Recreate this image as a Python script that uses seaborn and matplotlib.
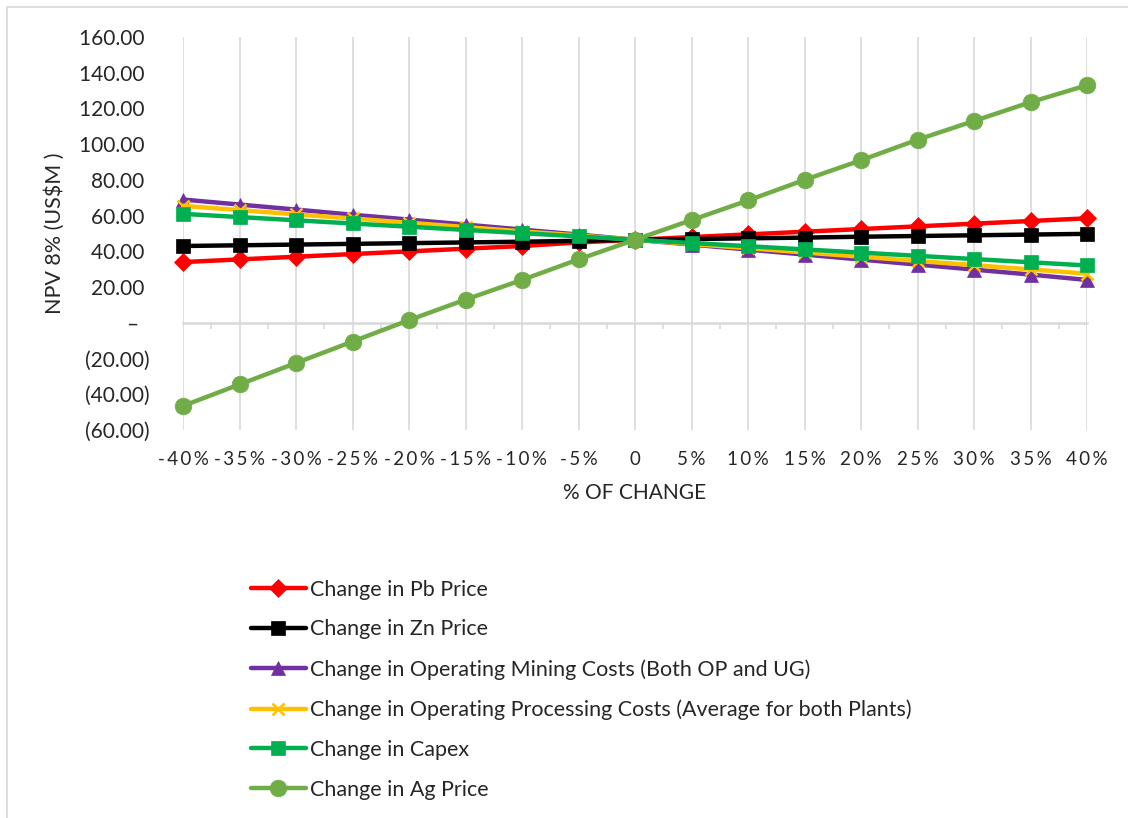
import matplotlib
matplotlib.use("Agg")
import matplotlib.pyplot as plt
from matplotlib.patches import Rectangle
import seaborn as sns
import pandas as pd

# Sensitivity of NPV (8%) to changes in key inputs
pct_change = [-40, -35, -30, -25, -20, -15, -10, -5, 0, 5, 10, 15, 20, 25, 30, 35, 40]

pb_price = [34.0, 35.5, 37.0, 38.5, 40.0, 41.5, 43.0, 45.0, 46.5, 48.0, 49.5, 51.0, 52.5, 54.0, 55.5, 57.0, 58.5]
zn_price = [43.0, 43.4, 43.8, 44.2, 44.6, 45.0, 45.4, 45.9, 46.5, 46.9, 47.3, 47.7, 48.2, 48.6, 49.0, 49.4, 49.8]
mining_costs = [69.0, 66.2, 63.4, 60.5, 57.8, 55.0, 52.2, 49.4, 46.5, 43.8, 41.0, 38.2, 35.4, 32.6, 29.8, 27.0, 24.0]
processing_costs = [65.5, 63.1, 60.7, 58.4, 56.0, 53.6, 51.2, 48.9, 46.5, 44.1, 41.8, 39.4, 37.0, 34.6, 32.3, 29.9, 27.5]
capex = [61.0, 59.2, 57.4, 55.6, 53.8, 52.0, 50.2, 48.4, 46.5, 44.7, 42.9, 41.1, 39.3, 37.5, 35.7, 33.9, 32.1]
ag_price = [-46.5, -34.5, -22.5, -10.5, 1.5, 13.0, 24.0, 35.5, 46.5, 57.5, 68.5, 80.0, 91.0, 102.5, 113.0, 123.5, 133.0]

series_names = [
    "Change in Pb Price",
    "Change in Zn Price",
    "Change in Operating Mining Costs (Both OP and UG)",
    "Change in Operating Processing Costs (Average for both Plants)",
    "Change in Capex",
    "Change in Ag Price",
]
series_values = [pb_price, zn_price, mining_costs, processing_costs, capex, ag_price]
series_colors = ["#FF0000", "#000000", "#7030A0", "#FFC000", "#00B050", "#70AD47"]
series_markers = ["D", "s", "^", "x", "s", "o"]
marker_sizes = [9, 10.5, 10.5, 9, 10.5, 12]

y_ticks = [160, 140, 120, 100, 80, 60, 40, 20, 0, -20, -40, -60]

rows = []
for name, vals in zip(series_names, series_values):
    for p, v in zip(pct_change, vals):
        rows.append({"pct": p, "npv": v, "series": name})
df = pd.DataFrame(rows)

sns.set_theme(style="white")
plt.rcParams["font.family"] = ["Lato", "DejaVu Sans"]

fig = plt.figure(figsize=(11.28, 8.18), dpi=100)
ax = fig.add_axes([183 / 1128, 1 - 430 / 818, (1087 - 183) / 1128, (430 - 37) / 818])

for i, (name, color, mk, ms) in enumerate(zip(series_names, series_colors, series_markers, marker_sizes)):
    sub = df[df["series"] == name]
    sns.lineplot(
        data=sub, x="pct", y="npv", ax=ax, color=color, linewidth=3.2,
        marker=mk, markersize=ms, markeredgecolor=color,
        markeredgewidth=1.8 if mk == "x" else 0.5,
        label=name, sort=False, clip_on=False, zorder=3 + i,
    )

ax.set_xlim(-40, 40)
ax.set_ylim(-60, 160)

# Category labels, letter-spaced
ax.set_xticks(pct_change)
ax.set_xticklabels(["\u2009".join(f"{p}%") if p != 0 else "0" for p in pct_change], fontsize=13.5)
ax.tick_params(axis="x", length=0, pad=15)
ax.grid(axis="x", color="#D9D9D9", linewidth=1.2)
ax.grid(axis="y", visible=False)


def acct(v):
    if v > 0:
        return f"{v:.2f} "
    if v < 0:
        return f"({abs(v):.2f})"
    return "–  "


ax.set_yticks(y_ticks)
ax.set_yticklabels([acct(v) for v in y_ticks], fontsize=15)
ax.tick_params(axis="y", length=0, pad=24)

for side in ["top", "right", "bottom", "left"]:
    ax.spines[side].set_visible(False)

# Horizontal category axis at zero with tick marks between categories
zero_axis = ax.secondary_xaxis(60 / 220)
zero_axis.set_xticks([p + 2.5 for p in pct_change[:-1]])
zero_axis.set_xticklabels([])
zero_axis.tick_params(axis="x", length=4, width=1.2, color="#D9D9D9", direction="out")
zero_axis.spines["bottom"].set_color("#D9D9D9")
zero_axis.spines["bottom"].set_linewidth(1.8)
for side in ["top", "left", "right"]:
    zero_axis.spines[side].set_visible(False)

ax.set_xlabel("% OF CHANGE", fontsize=15, labelpad=11)
ax.set_ylabel("NPV 8% (US$M )", fontsize=15.5, labelpad=10)

handles, labels = ax.get_legend_handles_labels()
ax.get_legend().remove()
fig.legend(
    handles, labels, loc="upper left", bbox_to_anchor=(242 / 1128, 1 - 571 / 818),
    frameon=False, fontsize=15.5, handlelength=2.55, handletextpad=0.22,
    labelspacing=0.92, borderaxespad=0,
)

# Chart area border
fig.add_artist(Rectangle((7 / 1128, -0.5), 2, 1.5 - 7 / 818, transform=fig.transFigure,
                         fill=False, edgecolor="#D9D9D9", linewidth=1.2))

fig.savefig("out.png", dpi=100)
